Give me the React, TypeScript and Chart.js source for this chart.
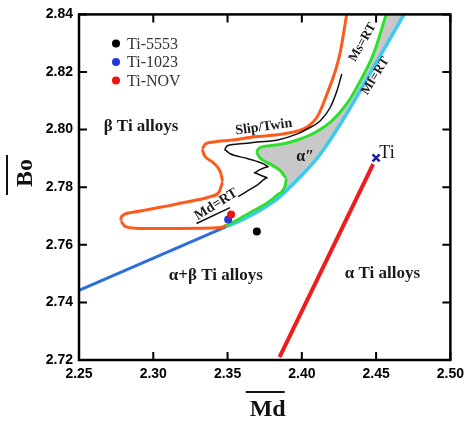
import React, { useEffect, useRef } from 'react';
import { Chart, registerables } from 'chart.js';

Chart.register(...registerables);

// ---- tick values ----
const xTicks = [2.25, 2.3, 2.35, 2.4, 2.45, 2.5];
const yTicks = [2.72, 2.74, 2.76, 2.78, 2.8, 2.82, 2.84];

// ---- boundary curves ([Md, Bo]) ----
const alphaBetaLine: [number, number][] = [
  [2.25, 2.7442],
  [2.3491, 2.7663],
];

const mfRT: [number, number][] = [
  [2.3491, 2.7663], [2.3604, 2.7688], [2.3717, 2.7719], [2.3837, 2.776],
  [2.3916, 2.7798], [2.4003, 2.7843], [2.4116, 2.7909], [2.4269, 2.8027],
  [2.4488, 2.822], [2.4688, 2.84],
];

const msRT: [number, number][] = [
  [2.3478, 2.7663], [2.3571, 2.7688], [2.3677, 2.7719], [2.377, 2.7746],
  [2.3837, 2.7774], [2.389, 2.7809], [2.3897, 2.7833], [2.3857, 2.7857],
  [2.3784, 2.7881], [2.3717, 2.7902], [2.369, 2.7923], [2.3717, 2.7937],
  [2.3784, 2.7944], [2.387, 2.795], [2.397, 2.7964], [2.4083, 2.7988],
  [2.4202, 2.803], [2.4302, 2.8089], [2.4382, 2.8158], [2.4482, 2.8262],
  [2.4568, 2.84],
];

const mdRT: [number, number][] = [
  [2.4302, 2.84], [2.4256, 2.8262], [2.4169, 2.8123], [2.4103, 2.8044],
  [2.4036, 2.8009], [2.397, 2.7995], [2.3837, 2.7982], [2.3684, 2.7975],
  [2.3537, 2.7964], [2.3404, 2.7957], [2.3351, 2.795], [2.3325, 2.7933],
  [2.3345, 2.7909], [2.3404, 2.7885], [2.3451, 2.7854], [2.3471, 2.7819],
  [2.3444, 2.7784], [2.3384, 2.7767], [2.3305, 2.7757], [2.3105, 2.7736],
  [2.2852, 2.7712], [2.2786, 2.7698], [2.2779, 2.7681], [2.2813, 2.7663],
  [2.2906, 2.7657], [2.3172, 2.7657], [2.3451, 2.766], [2.3491, 2.7667],
];

const slipTwin: [number, number][] = [
  [2.4269, 2.8193], [2.4236, 2.8134], [2.4189, 2.8075], [2.4123, 2.803],
  [2.4036, 2.8002], [2.397, 2.7985], [2.3837, 2.7964], [2.3704, 2.7957],
  [2.3571, 2.795], [2.3498, 2.7944], [2.3478, 2.793], [2.3517, 2.7916],
  [2.3637, 2.7899], [2.3743, 2.7881], [2.3777, 2.7871], [2.3717, 2.7861],
  [2.3677, 2.785], [2.373, 2.784], [2.377, 2.7833], [2.3704, 2.7809],
  [2.3624, 2.7784], [2.3571, 2.7767],
];

const mdRTUnderline: [number, number][] = [
  [2.3291, 2.7674],
  [2.3517, 2.7729],
];

const alphaLine: [number, number][] = [
  [2.448, 2.788],
  [2.385, 2.721],
];

// ---- alloys ----
const alloyNames = ['Ti-5553', 'Ti-1023', 'Ti-NOV'];
const alloyMd = [2.3697, 2.3504, 2.3524];
const alloyBo = [2.7646, 2.7688, 2.7705];
const alloyColors = ['#000000', '#2238d8', '#ee1414'];

const tiMd = 2.45;
const tiBo = 2.7902;

// ---- region / curve labels ----
const annotations = [
  { text: 'β Ti alloys', x: 2.2666, y: 2.8009, angle: 0, size: 17, weight: 'bold', align: 'left' },
  { text: 'α+β Ti alloys', x: 2.3105, y: 2.7494, angle: 0, size: 17, weight: 'bold', align: 'left' },
  { text: 'α Ti alloys', x: 2.4289, y: 2.7501, angle: 0, size: 17, weight: 'bold', align: 'left' },
  { text: 'Ti', x: 2.4522, y: 2.7919, angle: 0, size: 18, weight: 'normal', align: 'left' },
  { text: 'α″', x: 2.4023, y: 2.7905, angle: 0, size: 16, weight: 'bold', align: 'center' },
  { text: 'Slip/Twin', x: 2.3744, y: 2.8009, angle: -8, size: 14, weight: 'bold', align: 'center' },
  { text: 'Ms=RT', x: 2.4409, y: 2.8303, angle: -60, size: 13, weight: 'bold', align: 'center' },
  { text: 'Mf=RT', x: 2.4495, y: 2.8186, angle: -58, size: 13, weight: 'bold', align: 'center' },
  { text: 'Md=RT', x: 2.3424, y: 2.774, angle: -32, size: 14, weight: 'bold', align: 'center' },
];

const toXY = (arr: [number, number][]) => arr.map(([x, y]) => ({ x, y }));

const SERIF = '"Liberation Serif", "Times New Roman", serif';
const SANS = '"Liberation Sans", Arial, sans-serif';

const decorPlugin = {
  id: 'decor',
  afterDatasetsDraw(chart: any) {
    const { ctx, chartArea: a, scales } = chart;
    const xs = scales.x;
    const ys = scales.y;
    ctx.save();

    // frame
    ctx.strokeStyle = '#000';
    ctx.lineWidth = 2.5;
    ctx.strokeRect(a.left, a.top, a.right - a.left, a.bottom - a.top);

    // inward ticks on all four sides
    ctx.lineWidth = 2;
    ctx.beginPath();
    const tl = 8;
    xTicks.forEach((v) => {
      const px = xs.getPixelForValue(v);
      ctx.moveTo(px, a.bottom);
      ctx.lineTo(px, a.bottom - tl);
      ctx.moveTo(px, a.top);
      ctx.lineTo(px, a.top + tl);
    });
    yTicks.forEach((v) => {
      const py = ys.getPixelForValue(v);
      ctx.moveTo(a.left, py);
      ctx.lineTo(a.left + tl, py);
      ctx.moveTo(a.right, py);
      ctx.lineTo(a.right - tl, py);
    });
    ctx.stroke();

    // annotations
    ctx.fillStyle = '#1a1a1a';
    annotations.forEach((t) => {
      ctx.save();
      ctx.translate(xs.getPixelForValue(t.x), ys.getPixelForValue(t.y));
      ctx.rotate((t.angle * Math.PI) / 180);
      ctx.font = `${t.weight} ${t.size}px ${SERIF}`;
      ctx.textAlign = t.align;
      ctx.textBaseline = 'middle';
      ctx.fillText(t.text, 0, 0);
      ctx.restore();
    });

    // legend (inside plot, top-left)
    ctx.font = `16px ${SERIF}`;
    ctx.textAlign = 'left';
    ctx.textBaseline = 'middle';
    alloyNames.forEach((name, i) => {
      const cx = a.left + 37;
      const cy = a.top + 29 + i * 18.5;
      ctx.beginPath();
      ctx.fillStyle = alloyColors[i];
      ctx.arc(cx, cy, 4, 0, Math.PI * 2);
      ctx.fill();
      ctx.fillStyle = '#333';
      ctx.fillText(name, cx + 11, cy + 1);
    });

    // axis titles with overline
    ctx.fillStyle = '#111';
    ctx.strokeStyle = '#111';
    ctx.font = `bold 24px ${SERIF}`;
    // x title
    const xt = 'Md';
    const xw = ctx.measureText(xt).width;
    const xcx = (a.left + a.right) / 2 + 3;
    ctx.textAlign = 'center';
    ctx.textBaseline = 'alphabetic';
    ctx.fillText(xt, xcx, 416);
    ctx.lineWidth = 2;
    ctx.beginPath();
    ctx.moveTo(xcx - xw / 2 - 4, 392);
    ctx.lineTo(xcx + xw / 2 - 1, 392);
    ctx.stroke();
    // y title
    const yt = 'Bo';
    const yw = ctx.measureText(yt).width;
    const ycy = 173;
    ctx.save();
    ctx.translate(32, ycy);
    ctx.rotate(-Math.PI / 2);
    ctx.fillText(yt, 0, 0);
    ctx.restore();
    ctx.beginPath();
    ctx.moveTo(7, ycy - yw / 2 - 4);
    ctx.lineTo(7, ycy + yw / 2 + 8);
    ctx.stroke();

    ctx.restore();
  },
};

export default function App() {
  const ref = useRef<HTMLCanvasElement | null>(null);

  useEffect(() => {
    if (!ref.current) return;
    const lineDs = (data: [number, number][], color: string, width: number, order: number) => ({
      type: 'scatter' as const,
      data: toXY(data),
      showLine: true,
      borderColor: color,
      borderWidth: width,
      pointRadius: 0,
      fill: false,
      tension: 0.35,
      cubicInterpolationMode: 'monotone' as const,
      order,
    });

    const alphaDoublePrime = [...msRT, ...[...mfRT].reverse()];

    const chart = new Chart(ref.current, {
      type: 'scatter',
      data: {
        datasets: [
          ...alloyNames.map((name, i) => ({
            label: name,
            data: [{ x: alloyMd[i], y: alloyBo[i] }],
            showLine: false,
            pointRadius: 4,
            pointBackgroundColor: alloyColors[i],
            pointBorderColor: alloyColors[i],
            pointBorderWidth: 0,
            order: i === 2 ? 0 : 1,
          })),
          {
            label: 'Ti',
            data: [{ x: tiMd, y: tiBo }],
            showLine: false,
            pointStyle: 'crossRot',
            pointRadius: 5,
            pointBorderWidth: 2.5,
            pointBorderColor: '#1c1ca8',
            order: 0,
          },
          { ...lineDs(alphaLine, '#ee1c1c', 4, 2), tension: 0 },
          { ...lineDs(slipTwin, '#111111', 1.5, 3), tension: 0.2 },
          { ...lineDs(mdRTUnderline, '#111111', 1.5, 3), tension: 0 },
          lineDs(mdRT, '#ff5a1e', 3, 4),
          { ...lineDs(alphaBetaLine, '#2a6edc', 3, 5), tension: 0 },
          lineDs(msRT, '#2ee02e', 3, 6),
          lineDs(mfRT, '#3ccaf0', 3.5, 7),
          {
            type: 'scatter' as const,
            data: toXY(alphaDoublePrime),
            showLine: true,
            borderWidth: 0,
            borderColor: 'rgba(0,0,0,0)',
            backgroundColor: '#c8c8c8',
            pointRadius: 0,
            fill: 'shape',
            tension: 0,
            order: 10,
          },
        ] as any,
      },
      options: {
        responsive: false,
        animation: false,
        events: [],
        layout: { padding: { top: 13, right: 15, left: 0, bottom: 0 } },
        plugins: {
          legend: { display: false },
          tooltip: { enabled: false },
        },
        scales: {
          x: {
            type: 'linear',
            min: 2.25,
            max: 2.5,
            grid: { display: false, drawTicks: false },
            border: { display: false },
            afterBuildTicks: (s: any) => {
              s.ticks = xTicks.map((v) => ({ value: v }));
            },
            afterFit: (s: any) => {
              s.height = 61;
            },
            ticks: {
              padding: 6,
              color: '#000',
              autoSkip: false,
              maxRotation: 0,
              font: { family: SANS, size: 14, weight: 'bold' },
              callback: (v: any) => Number(v).toFixed(2),
            },
          },
          y: {
            type: 'linear',
            min: 2.72,
            max: 2.84,
            grid: { display: false, drawTicks: false },
            border: { display: false },
            afterBuildTicks: (s: any) => {
              s.ticks = yTicks.map((v) => ({ value: v }));
            },
            afterFit: (s: any) => {
              s.width = 79;
            },
            ticks: {
              padding: 6,
              color: '#000',
              autoSkip: false,
              font: { family: SANS, size: 14, weight: 'bold' },
              callback: (v: any) => Number(v).toFixed(2),
            },
          },
        },
      } as any,
      plugins: [decorPlugin as any],
    });
    return () => chart.destroy();
  }, []);

  return (
    <div style={{ position: 'absolute', left: 0, top: 0, width: 470, height: 421, background: '#fff' }}>
      <canvas ref={ref} width={470} height={421} style={{ display: 'block' }} />
    </div>
  );
}
